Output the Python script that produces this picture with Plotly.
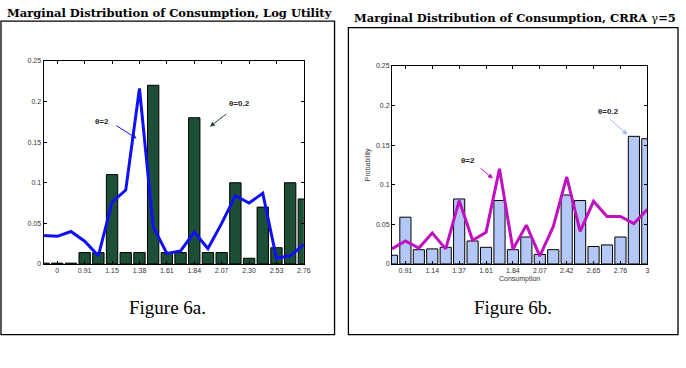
import plotly.graph_objects as go

# ---------------- data ----------------
left_tick_labels = ["0", "0.91", "1.15", "1.38", "1.61", "1.84", "2.07", "2.30", "2.53", "2.76"]
left_bars_theta02 = [0.001, 0.001, 0.001, 0.014, 0.014, 0.11, 0.014, 0.014, 0.22, 0.014,
                     0.014, 0.18, 0.014, 0.014, 0.10, 0.007, 0.070, 0.020, 0.10, 0.080]
left_line_theta2 = [0.035, 0.034, 0.040, 0.028, 0.010, 0.076, 0.091, 0.216, 0.046, 0.013,
                    0.016, 0.039, 0.019, 0.050, 0.084, 0.075, 0.087, 0.007, 0.010, 0.024]

right_tick_labels = ["0.91", "1.14", "1.37", "1.61", "1.84", "2.07", "2.42", "2.65", "2.76", "3"]
right_bars_theta02 = [0.011, 0.059, 0.018, 0.019, 0.021, 0.082, 0.029, 0.021, 0.080, 0.018,
                      0.034, 0.012, 0.018, 0.087, 0.080, 0.022, 0.024, 0.034, 0.161, 0.158]
right_line_theta2 = [0.019, 0.029, 0.020, 0.039, 0.019, 0.080, 0.030, 0.040, 0.120, 0.0185,
                     0.049, 0.010, 0.047, 0.110, 0.041, 0.079, 0.060, 0.060, 0.051, 0.069]

y_tick_vals = [0, 0.05, 0.1, 0.15, 0.2, 0.25]
y_tick_text = ["0", "0.05", "0.1", "0.15", "0.2", "0.25"]

W, H = 686, 368
idx = list(range(len(left_bars_theta02)))
tick_idx = list(range(1, 20, 2))

fig = go.Figure()

fig.add_trace(go.Bar(x=idx, y=left_bars_theta02, width=0.83, marker=dict(color="#1d4e36", line=dict(color="black", width=1)),
                     xaxis="x", yaxis="y", showlegend=False))
fig.add_trace(go.Scatter(x=idx, y=left_line_theta2, mode="lines", line=dict(color="#1010f5", width=3),
                         xaxis="x", yaxis="y", showlegend=False))
fig.add_trace(go.Bar(x=idx, y=right_bars_theta02, width=0.83, marker=dict(color="#b4c8f8", line=dict(color="black", width=1)),
                     xaxis="x2", yaxis="y2", showlegend=False))
fig.add_trace(go.Scatter(x=idx, y=right_line_theta2, mode="lines", line=dict(color="#c010c0", width=3),
                         xaxis="x2", yaxis="y2", showlegend=False))

def px_x(p):
    return p / W

def px_y(p):
    return 1 - p / H

tickfont = dict(family="Liberation Sans, Arial", size=7, color="#333333")
common_x = dict(range=[0, 19], ticks="inside", ticklen=3, tickcolor="black", showline=True, linecolor="black",
                linewidth=1, mirror="allticks", showgrid=False, zeroline=False, tickfont=tickfont, fixedrange=True)
common_y = dict(range=[0, 0.25], ticks="inside", ticklen=3, tickcolor="black", showline=True, linecolor="black",
                linewidth=1, mirror="allticks", showgrid=False, zeroline=False, tickfont=tickfont,
                tickvals=y_tick_vals, ticktext=y_tick_text, fixedrange=True)

fig.update_layout(
    width=W, height=H, margin=dict(l=0, r=0, t=0, b=0),
    paper_bgcolor="white", plot_bgcolor="white", bargap=0, hovermode=False,
    xaxis=dict(domain=[px_x(44), px_x(307)], anchor="y", tickvals=tick_idx, ticktext=left_tick_labels, **common_x),
    yaxis=dict(domain=[px_y(265), px_y(58)], anchor="x", **common_y),
    xaxis2=dict(domain=[px_x(396), px_x(654)], anchor="y2", tickvals=tick_idx, ticktext=right_tick_labels,
                title=dict(text="Consumption", font=dict(family="Liberation Sans, Arial", size=7, color="#333333"), standoff=2),
                **common_x),
    yaxis2=dict(domain=[px_y(265), px_y(63)], anchor="x2",
                title=dict(text="Probability", font=dict(family="Liberation Sans, Arial", size=7, color="#333333"), standoff=4),
                **common_y),
)

# panel frames
fig.add_shape(type="rect", xref="paper", yref="paper", x0=px_x(1), x1=px_x(338), y0=px_y(337), y1=px_y(17.5),
              line=dict(color="black", width=1.3))
fig.add_shape(type="rect", xref="paper", yref="paper", x0=px_x(352), x1=px_x(685), y0=px_y(337), y1=px_y(24),
              line=dict(color="black", width=1.3))

title_font = dict(family="DejaVu Serif", size=11.5, color="black")
fig.add_annotation(xref="paper", yref="paper", x=px_x(171), y=px_y(9), text="<b>Marginal Distribution of Consumption, Log Utility</b>",
                   showarrow=False, font=title_font, xanchor="center", yanchor="middle")
fig.add_annotation(xref="paper", yref="paper", x=px_x(520), y=px_y(14), text="<b>Marginal Distribution of Consumption, CRRA </b>γ<b>=5</b>",
                   showarrow=False, font=title_font, xanchor="center", yanchor="middle")

cap_font = dict(family="Liberation Serif, Times New Roman", size=19, color="black")
fig.add_annotation(xref="paper", yref="paper", x=px_x(169), y=px_y(309), text="Figure 6a.", showarrow=False,
                   font=cap_font, xanchor="center", yanchor="middle")
fig.add_annotation(xref="paper", yref="paper", x=px_x(518), y=px_y(309), text="Figure 6b.", showarrow=False,
                   font=cap_font, xanchor="center", yanchor="middle")

lab_font = dict(family="Liberation Sans, Arial", size=8, color="#222222")
# left annotations
fig.add_annotation(xref="x", yref="y", x=4.26, y=0.176, text="<b>θ=2</b>", showarrow=False, font=lab_font)
fig.add_annotation(xref="x", yref="y", x=6.79, y=0.1546, ax=5.20, ay=0.1715, axref="x", ayref="y", text="",
                   showarrow=True, arrowhead=2, arrowsize=1, arrowwidth=1, arrowcolor="#1010f5")
fig.add_annotation(xref="x", yref="y", x=14.3, y=0.197, text="<b>θ=0.2</b>", showarrow=False, font=lab_font)
fig.add_annotation(xref="x", yref="y", x=12.14, y=0.169, ax=13.44, ay=0.186, axref="x", ayref="y", text="",
                   showarrow=True, arrowhead=2, arrowsize=1, arrowwidth=1, arrowcolor="#1d4e36")
# right annotations
fig.add_annotation(xref="x2", yref="y2", x=5.67, y=0.131, text="<b>θ=2</b>", showarrow=False, font=lab_font)
fig.add_annotation(xref="x2", yref="y2", x=7.51, y=0.1077, ax=6.48, ay=0.1225, axref="x2", ayref="y2", text="",
                   showarrow=True, arrowhead=2, arrowsize=1, arrowwidth=1, arrowcolor="#c010c0")
fig.add_annotation(xref="x2", yref="y2", x=16.1, y=0.192, text="<b>θ=0.2</b>", showarrow=False, font=lab_font)
fig.add_annotation(xref="x2", yref="y2", x=17.53, y=0.163, ax=16.13, ay=0.184, axref="x2", ayref="y2", text="",
                   showarrow=True, arrowhead=2, arrowsize=1, arrowwidth=1, arrowcolor="#9fb8f0")

fig.write_html("out.html", config={"displayModeBar": False, "staticPlot": True},
               post_script="document.body.style.margin='0';document.body.style.overflow='hidden';")
